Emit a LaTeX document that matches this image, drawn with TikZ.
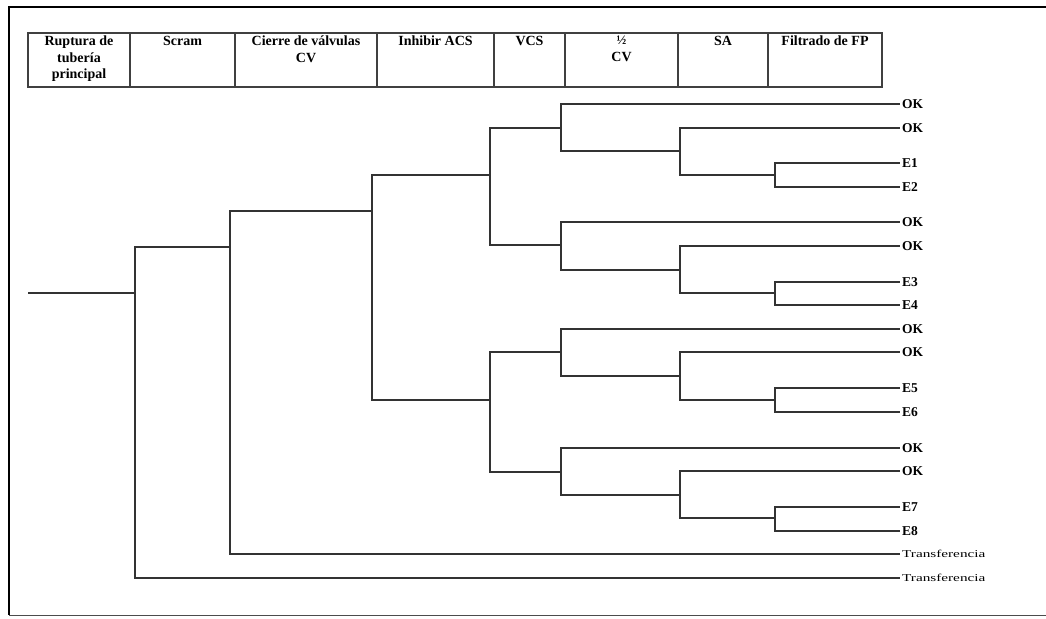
\documentclass[tikz,border=0pt]{standalone}
\usepackage{fontspec}
\setmainfont{Liberation Serif}
\newfontfamily\widefont[FakeStretch=1.45]{Liberation Serif}
\usepackage{xcolor}
\usepackage{tikz}
\usetikzlibrary{positioning,calc}

\begin{document}
\begin{tikzpicture}[
  x=1pt, y=-1pt,
  hcell/.style={draw=black!75, line width=1.2pt, minimum height=54pt, inner sep=0pt, outer sep=0pt, anchor=north west},
  htext/.style={anchor=north, align=center, font=\fontsize{14}{16.5}\selectfont\bfseries, inner sep=3pt},
  branch/.style={draw=black!80, line width=1.2pt},
  outcome/.style={anchor=west, inner sep=2pt, font=\fontsize{13.5}{15}\selectfont\bfseries},
  transfer/.style={anchor=west, inner sep=2pt, font=\fontsize{10.5}{12}\widefont},
]
\useasboundingbox (0,0) rectangle (1046,618);

% outer frame
\draw[line width=1.6pt] (1046,7) -- (9,7) -- (9,615);
\draw[line width=0.8pt, black!70] (9,615) -- (1046,615);

% header
\node[hcell, minimum width=102pt] (rup) at (28,33) {};
\node[hcell, minimum width=105pt, right=0pt of rup] (scr) {};
\node[hcell, minimum width=142pt, right=0pt of scr] (cie) {};
\node[hcell, minimum width=117pt, right=0pt of cie] (inh) {};
\node[hcell, minimum width=71pt, right=0pt of inh] (vcs) {};
\node[hcell, minimum width=113pt, right=0pt of vcs] (med) {};
\node[hcell, minimum width=90pt, right=0pt of med] (sa) {};
\node[hcell, minimum width=114pt, right=0pt of sa] (fil) {};

\node[htext] (trup) at (rup.north) {Ruptura de\\tubería\\principal};
\node[htext] (tscr) at (scr.north) {Scram};
\node[htext] (tcie) at (cie.north) {Cierre de válvulas\\CV};
\node[htext] (tinh) at (inh.north) {Inhibir ACS};
\node[htext] (tvcs) at (vcs.north) {VCS};
\node[htext] (tmed) at (med.north) {{\fontsize{13}{14}\selectfont ½}\\CV};
\node[htext] (tsa) at (sa.north) {SA};
\node[htext] (tfil) at (fil.north) {Filtrado de FP};

% branch points
\coordinate (s0) at (28,293);
\coordinate (a) at (135,293);
\coordinate (b) at (230,247);
\coordinate (c) at (372,211);
\coordinate (d1) at (490,175);
\coordinate (d2) at (490,400);
\coordinate (e1) at (561,128);
\coordinate (e2) at (561,245);
\coordinate (e3) at (561,352);
\coordinate (e4) at (561,472);
\coordinate (f1) at (680,151);
\coordinate (f2) at (680,270);
\coordinate (f3) at (680,376);
\coordinate (f4) at (680,495);
\coordinate (g1) at (775,175);
\coordinate (g2) at (775,293);
\coordinate (g3) at (775,400);
\coordinate (g4) at (775,518);

% end states
\node[outcome] (ok1) at (900,104) {OK};
\node[outcome] (ok2) at (900,128) {OK};
\node[outcome] (es1) at (900,163) {E1};
\node[outcome] (es2) at (900,187) {E2};
\node[outcome] (ok3) at (900,222) {OK};
\node[outcome] (ok4) at (900,246) {OK};
\node[outcome] (es3) at (900,282) {E3};
\node[outcome] (es4) at (900,305) {E4};
\node[outcome] (ok5) at (900,329) {OK};
\node[outcome] (ok6) at (900,352) {OK};
\node[outcome] (es5) at (900,388) {E5};
\node[outcome] (es6) at (900,412) {E6};
\node[outcome] (ok7) at (900,448) {OK};
\node[outcome] (ok8) at (900,471) {OK};
\node[outcome] (es7) at (900,507) {E7};
\node[outcome] (es8) at (900,531) {E8};
\node[transfer] (tr1) at (900,554) {Transferencia};
\node[transfer] (tr2) at (900,578) {Transferencia};

% tree
\draw[branch] (s0) -- (a);
\draw[branch] (a) |- (b);
\draw[branch] (a) |- (tr2.west);
\draw[branch] (b) |- (c);
\draw[branch] (b) |- (tr1.west);
\draw[branch] (c) |- (d1);
\draw[branch] (c) |- (d2);

\draw[branch] (d1) |- (e1);
\draw[branch] (d1) |- (e2);
\draw[branch] (d2) |- (e3);
\draw[branch] (d2) |- (e4);

\draw[branch] (e1) |- (ok1.west);
\draw[branch] (e1) |- (f1);
\draw[branch] (e2) |- (ok3.west);
\draw[branch] (e2) |- (f2);
\draw[branch] (e3) |- (ok5.west);
\draw[branch] (e3) |- (f3);
\draw[branch] (e4) |- (ok7.west);
\draw[branch] (e4) |- (f4);

\draw[branch] (f1) |- (ok2.west);
\draw[branch] (f1) |- (g1);
\draw[branch] (f2) |- (ok4.west);
\draw[branch] (f2) |- (g2);
\draw[branch] (f3) |- (ok6.west);
\draw[branch] (f3) |- (g3);
\draw[branch] (f4) |- (ok8.west);
\draw[branch] (f4) |- (g4);

\draw[branch] (g1) |- (es1.west);
\draw[branch] (g1) |- (es2.west);
\draw[branch] (g2) |- (es3.west);
\draw[branch] (g2) |- (es4.west);
\draw[branch] (g3) |- (es5.west);
\draw[branch] (g3) |- (es6.west);
\draw[branch] (g4) |- (es7.west);
\draw[branch] (g4) |- (es8.west);

\end{tikzpicture}
\end{document}
